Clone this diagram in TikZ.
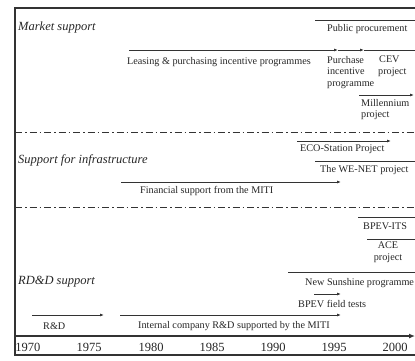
\documentclass[tikz,border=0pt]{standalone}
\usepackage{fontspec}
\setmainfont{Liberation Serif}
\usetikzlibrary{arrows.meta}
\begin{document}
\begin{tikzpicture}[x=1pt,y=-1pt,
  txt/.style={inner sep=0pt,anchor=west,text=black!85,font=\fontsize{10.2}{11.5}\selectfont,align=left},
  yrs/.style={inner sep=0pt,anchor=center,text=black!85,font=\fontsize{12.5}{14}\selectfont},
  sect/.style={inner sep=0pt,anchor=west,text=black!85,font=\fontsize{12.5}{14}\selectfont\itshape},
  ln/.style={draw=black!80,line width=0.9pt},
  arr/.style={ln,-{Latex[length=4pt,width=3pt]}},
  frame/.style={draw=black!80,line width=1.5pt},
  sep/.style={draw=black!80,line width=0.8pt,dash pattern=on 7pt off 3pt on 1.5pt off 3pt}]
\useasboundingbox (0,0) rectangle (415,360);
% frame
\coordinate (tl) at (15,8); \coordinate (tr) at (415,8);
\coordinate (bl) at (15,355); \coordinate (br) at (415,355);
\draw[frame] (tr) -- (tl) -- (bl) -- (br);
% separators
\coordinate (s1a) at (15,132); \coordinate (s1b) at (415,132);
\coordinate (s2a) at (15,207); \coordinate (s2b) at (415,207);
\draw[sep] (s1a) -- (s1b);
\draw[sep] (s2a) -- (s2b);
% axis
\coordinate (ax0) at (15,336); \coordinate (ax1) at (415,336);
\draw[frame,-{Latex[length=6pt,width=5pt]}] (ax0) -- (ax1);
\foreach \yr/\xx in {1970/28,1975/89,1980/151,1985/212,1990/273,1995/334,2000/395}
  \node[yrs] (y\yr) at (\xx,347) {\yr};
% section labels
\node[sect] (ms) at (18,27) {Market support};
\node[sect] (si) at (18,160) {Support for infrastructure};
\node[sect] (rd) at (18,282) {RD\&D support};
% Market support
\coordinate (pp0) at (315,20); \coordinate (pp1) at (415,20);
\draw[ln] (pp0) -- (pp1);
\node[txt] (pp) at (327,29) {Public procurement};
\coordinate (le0) at (129,50); \coordinate (le1) at (338,50);
\coordinate (le2) at (364,50); \coordinate (le3) at (415,50);
\draw[arr] (le0) -- (le1);
\draw[arr] (le1) -- (le2);
\draw[ln] (le2) -- (le3);
\node[txt] (le) at (127,62) {Leasing \& purchasing incentive programmes};
\node[txt,anchor=north west] (pi) at (327,56) {Purchase\\incentive\\programme};
\node[txt,anchor=north west] (cev) at (378,56) {\hspace*{1pt}CEV\\project};
\coordinate (mi0) at (359,95); \coordinate (mi1) at (414,95);
\draw[arr] (mi0) -- (mi1);
\node[txt,anchor=north west] (mi) at (361,99) {Millennium\\project};
% Infrastructure
\coordinate (ec0) at (297,141); \coordinate (ec1) at (391,141);
\draw[arr] (ec0) -- (ec1);
\node[txt] (ec) at (300,149) {ECO-Station Project};
\coordinate (we0) at (315,161); \coordinate (we1) at (415,161);
\draw[ln] (we0) -- (we1);
\node[txt] (we) at (320,170) {The WE-NET project};
\coordinate (fs0) at (121,182); \coordinate (fs1) at (341,182);
\draw[arr] (fs0) -- (fs1);
\node[txt] (fs) at (140,191) {Financial support from the MITI};
% RD&D
\coordinate (bi0) at (358,217); \coordinate (bi1) at (415,217);
\draw[ln] (bi0) -- (bi1);
\node[txt] (bi) at (363,226) {BPEV-ITS};
\coordinate (ac0) at (367,239); \coordinate (ac1) at (415,239);
\draw[ln] (ac0) -- (ac1);
\node[txt,anchor=north,align=center] (ac) at (388,242) {ACE\\project};
\coordinate (ns0) at (288,272); \coordinate (ns1) at (415,272);
\draw[ln] (ns0) -- (ns1);
\node[txt] (ns) at (305,283) {New Sunshine programme};
\coordinate (bf0) at (314,294); \coordinate (bf1) at (341,294);
\draw[arr] (bf0) -- (bf1);
\node[txt] (bf) at (298,304) {BPEV field tests};
\coordinate (ic0) at (120,315); \coordinate (ic1) at (341,315);
\draw[arr] (ic0) -- (ic1);
\node[txt] (ic) at (138,326) {Internal company R\&D supported by the MITI};
\coordinate (rd0) at (32,315); \coordinate (rd1) at (104,315);
\draw[arr] (rd0) -- (rd1);
\node[txt] (rdl) at (43,326) {R\&D};
\end{tikzpicture}
\end{document}
